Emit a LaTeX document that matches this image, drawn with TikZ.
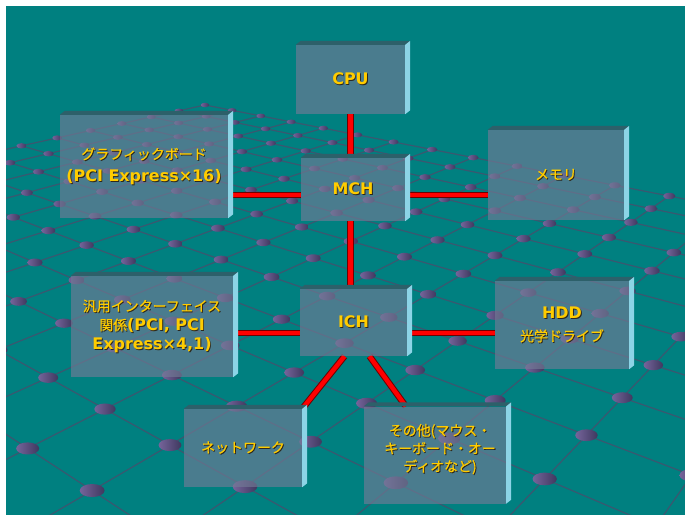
\documentclass[tikz,border=0pt]{standalone}
\usepackage{fontspec}
\setmainfont{DejaVu Sans}
\newfontfamily\jp{Noto Sans CJK JP}[FakeBold=0.5]
\usetikzlibrary{calc}
\definecolor{bgteal}{RGB}{0,128,128}
\definecolor{gridc}{RGB}{58,88,112}
\definecolor{dotL}{RGB}{118,100,155}
\definecolor{dotR}{RGB}{62,56,94}
\definecolor{facec}{RGB}{114,123,150}
\definecolor{topc}{RGB}{45,96,106}
\definecolor{sidec}{RGB}{140,212,230}
\definecolor{gold}{RGB}{255,204,0}
\definecolor{tshadow}{RGB}{45,40,30}
\definecolor{connred}{RGB}{255,0,0}
\definecolor{conndark}{RGB}{110,0,0}
\pgfdeclarelayer{bg}
\pgfdeclarelayer{conn}
\pgfsetlayers{bg,conn,main}
\newcommand{\shd}[1]{\leavevmode\rlap{\kern0.9pt\raisebox{-0.9pt}{\color{tshadow}#1}}#1}
\newcommand{\txJ}[1]{\shd{{\jp\fontsize{14}{18}\selectfont #1}}}
\newcommand{\txB}[1]{\shd{{\bfseries\fontsize{16}{18}\selectfont #1}}}
\newcommand{\slab}[1]{%
  \fill[topc] (#1.north west) -- (#1.north east) -- ([shift={(5,-4)}]#1.north east) -- ([shift={(5,-4)}]#1.north west) -- cycle;
  \fill[sidec] (#1.north east) -- ([shift={(5,-4)}]#1.north east) -- ([shift={(5,-4)}]#1.south east) -- (#1.south east) -- cycle;}
\begin{document}
\begin{tikzpicture}[x=1bp,y=-1bp,
  gridline/.style={draw=gridc,line width=1.2bp},
  dotshade/.style={left color=dotL,right color=dotR},
  box/.style={fill=facec,fill opacity=0.65,text opacity=1,text=gold,align=center,inner sep=0pt,font=\fontsize{16}{19}\selectfont},
  conn/.style={draw=conndark,double=connred,line width=1bp,double distance=4.5bp}]
\useasboundingbox (0,0) rectangle (685,515);
\begin{pgfonlayer}{bg}
\fill[white] (0,0) rectangle (685,515);
\fill[bgteal] (6,6) rectangle (685,515);
\begin{scope}
\clip (6,6) rectangle (685,515);
\foreach \i in {0,...,16}{
  \pgfmathsetmacro\wa{1-0.02633*\i}
  \pgfmathsetmacro\xa{(205+21.064*\i)/\wa}
  \pgfmathsetmacro\ya{(105+2.4224*\i)/\wa}
  \pgfmathsetmacro\wb{1-0.02633*\i-0.02862*15}
  \pgfmathsetmacro\xb{(205+21.064*\i-31.196*15)/\wb}
  \pgfmathsetmacro\yb{(105+2.4224*\i+2.633*15)/\wb}
  \draw[gridline] (\xa,\ya) -- (\xb,\yb);
}
\foreach \j in {0,...,15}{
  \pgfmathsetmacro\wa{1-0.02862*\j}
  \pgfmathsetmacro\xa{(205-31.196*\j)/\wa}
  \pgfmathsetmacro\ya{(105+2.633*\j)/\wa}
  \pgfmathsetmacro\wb{1-0.02633*16-0.02862*\j}
  \pgfmathsetmacro\xb{(205+21.064*16-31.196*\j)/\wb}
  \pgfmathsetmacro\yb{(105+2.4224*16+2.633*\j)/\wb}
  \draw[gridline] (\xa,\ya) -- (\xb,\yb);
}
\foreach \i in {0,...,16}{
  \foreach \j in {0,...,15}{
    \pgfmathsetmacro\w{1-0.02633*\i-0.02862*\j}
    \pgfmathsetmacro\px{(205+21.064*\i-31.196*\j)/\w}
    \pgfmathsetmacro\py{(105+2.4224*\i+2.633*\j)/\w}
    \pgfmathsetmacro\rx{4.2/\w}
    \pgfmathsetmacro\ry{2.2/\w}
    \shade[dotshade] (\px,\py) ellipse [x radius=\rx, y radius=\ry];
  }
}
\end{scope}
\end{pgfonlayer}

% boxes
\node[box,minimum width=109bp,minimum height=69bp] (cpu) at (350.5,79.5) {\txB{CPU}};
\node[box,minimum width=168bp,minimum height=103bp] (gfx) at (144,166.5) {\txJ{グラフィックボード}\\[3bp]\txB{(PCI Express×16)}};
\node[box,minimum width=104bp,minimum height=63bp] (mch) at (353,189.5) {\txB{MCH}};
\node[box,minimum width=136bp,minimum height=90bp] (mem) at (556,175) {\txJ{メモリ}};
\node[box,minimum width=162bp,minimum height=101bp] (gen) at (152,326.5) {\txJ{汎用インターフェイス}\\\shd{{\jp\fontsize{14}{18}\selectfont 関係}{\bfseries\fontsize{16}{18}\selectfont (PCI, PCI}}\\\txB{Express×4,1)}};
\node[box,minimum width=107bp,minimum height=67bp] (ich) at (353.5,322.5) {\txB{ICH}};
\node[box,minimum width=134bp,minimum height=88bp] (hdd) at (562,325) {\txB{HDD}\\[4bp]\txJ{光学ドライブ}};
\node[box,minimum width=118bp,minimum height=78bp] (net) at (243,448) {\txJ{ネットワーク}};
\node[box,minimum width=142bp,minimum height=97bp] (oth) at (435,455) {\hspace*{10bp}\raisebox{0pt}[\height][\dimexpr\depth+10bp\relax]{\fontsize{14}{18}\selectfont\begin{tabular}{@{}c@{}}\txJ{その他(マウス・}\\\txJ{キーボード・オー}\\\txJ{ディオなど)}\end{tabular}}};
\foreach \n in {cpu,gfx,mch,mem,gen,ich,hdd,net,oth}{\slab{\n}}

% connectors
\begin{pgfonlayer}{conn}
\path ([shift={(0,5.5)}]mch.west) coordinate (g1);
\path ([shift={(0,10.5)}]ich.west) coordinate (g2);
\draw[conn] (cpu.south) -- (cpu.south |- mch.north);
\draw[conn] (cpu.south |- mch.south) -- (cpu.south |- ich.north);
\draw[conn] (g1) -- (gfx.east |- g1);
\draw[conn] (mch.east |- g1) -- (mem.west |- g1);
\draw[conn] (g2) -- (gen.east |- g2);
\draw[conn] (ich.east |- g2) -- (hdd.west |- g2);
\draw[conn] ([shift={(-9,0)}]ich.south) -- (net.north east);
\draw[conn] ([shift={(16,0)}]ich.south) -- ([shift={(42,0)}]oth.north west);
\end{pgfonlayer}
\end{tikzpicture}
\end{document}
